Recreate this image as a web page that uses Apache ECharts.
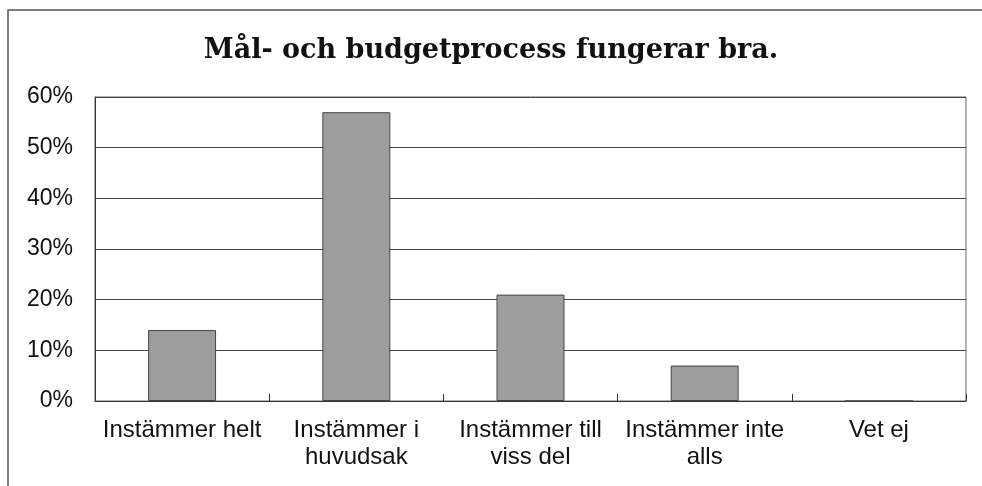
<!DOCTYPE html>
<html>
<head>
<meta charset="utf-8">
<script src="https://cdn.jsdelivr.net/npm/echarts@6/dist/echarts.min.js"></script>
<style>
  html, body { margin: 0; padding: 0; background: #fff; }
  #chart { width: 982px; height: 486px; }
</style>
</head>
<body>
<div id="chart"></div>
<script>
// data
const categories = ['Instämmer helt', 'Instämmer i\nhuvudsak', 'Instämmer till\nviss del', 'Instämmer inte\nalls', 'Vet ej'];
const shares = [14, 57, 21, 7, 0];
const yTicks = [0, 10, 20, 30, 40, 50, 60];

const chart = echarts.init(document.getElementById('chart'));

chart.setOption({
  animation: false,
  backgroundColor: '#fff',
  title: {
    text: 'Mål- och budgetprocess fungerar bra.',
    left: 'center',
    top: 32,
    textStyle: {
      fontFamily: 'DejaVu Serif',
      fontWeight: 'bold',
      fontSize: 27,
      color: '#111'
    }
  },
  // scanned page frame, top and left edges
  graphic: [{
    type: 'polyline',
    shape: { points: [[8, 486], [8, 10], [982, 10]] },
    style: { stroke: '#555', lineWidth: 1.5, fill: null }
  }],
  grid: {
    left: 95,
    right: 16,
    top: 97,
    bottom: 85,
    show: true,
    borderColor: '#666',
    borderWidth: 1
  },
  xAxis: {
    type: 'category',
    data: categories,
    axisLine: { lineStyle: { color: '#333', width: 1 } },
    axisTick: { show: true, inside: true, length: 7, lineStyle: { color: '#333' } },
    axisLabel: {
      interval: 0,
      margin: 16,
      fontFamily: 'Liberation Sans',
      fontSize: 24,
      lineHeight: 27,
      color: '#111'
    }
  },
  yAxis: {
    type: 'value',
    min: yTicks[0],
    max: yTicks[yTicks.length - 1],
    interval: 10,
    axisLine: { show: true, lineStyle: { color: '#333', width: 1 } },
    axisTick: { show: false },
    splitLine: { lineStyle: { color: '#444', width: 1 } },
    axisLabel: {
      formatter: '{value}%',
      margin: 22,
      fontFamily: 'Liberation Sans',
      fontSize: 23,
      color: '#111'
    }
  },
  series: [{
    type: 'bar',
    data: shares,
    barWidth: '39%',
    itemStyle: {
      color: '#9e9e9e',
      borderColor: '#444',
      borderWidth: 1
    }
  }]
});
</script>
</body>
</html>
